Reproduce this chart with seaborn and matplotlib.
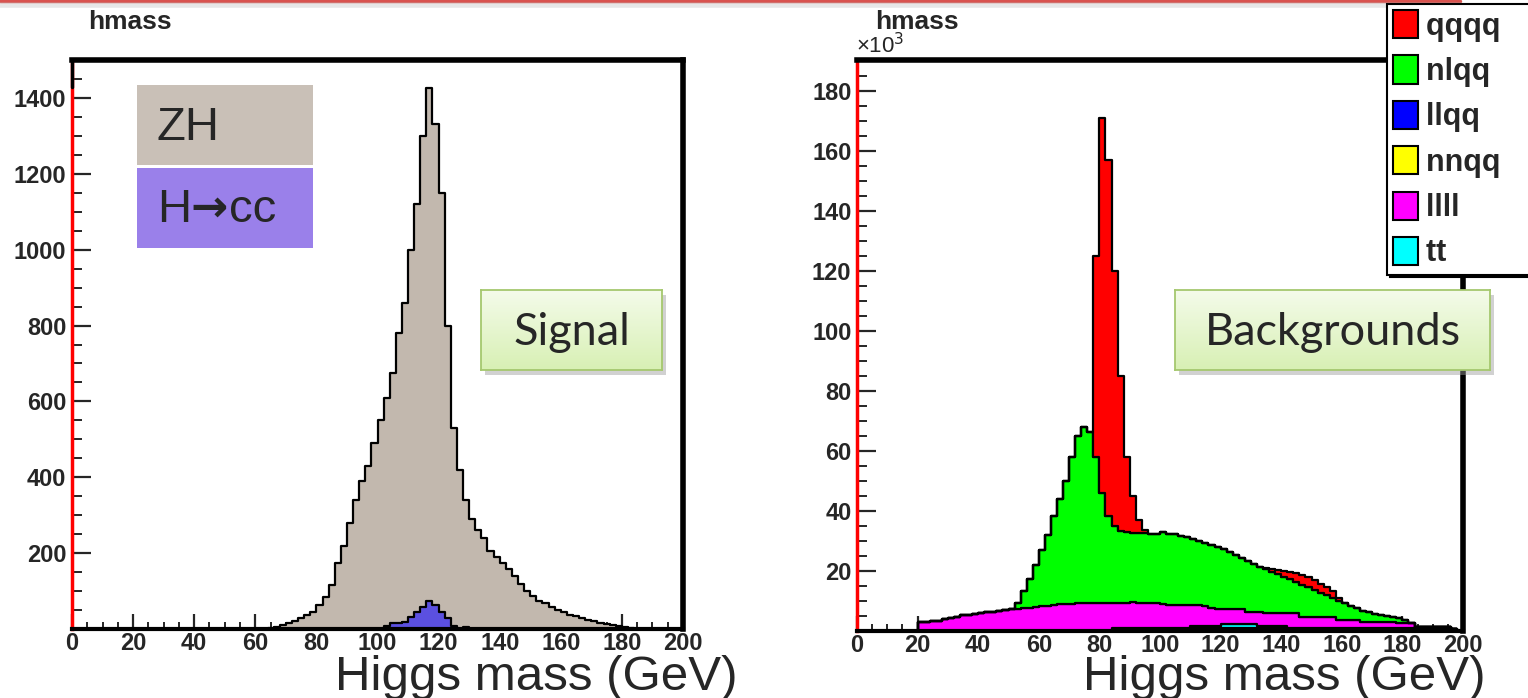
import numpy as np
import pandas as pd
import matplotlib
matplotlib.use("Agg")
import matplotlib.pyplot as plt
import seaborn as sns
from matplotlib.patches import Rectangle
from matplotlib.lines import Line2D
from matplotlib.ticker import MultipleLocator
from matplotlib.colors import LinearSegmentedColormap

# ---------------- data ----------------
bin_width = 2
mass_range = (0, 200)

# Signal panel (events per 2 GeV bin)
zh_first_bin = 64
zh_counts = [3, 6, 10, 15, 22, 28, 38, 45, 62, 85,
             115, 175, 220, 280, 340, 390, 430, 490, 550, 610,
             675, 780, 860, 1000, 1120, 1300, 1425, 1330, 1150, 800,
             530, 420, 340, 290, 260, 240, 205, 190, 175, 158,
             140, 118, 100, 88, 75, 68, 58, 50, 45, 38,
             33, 28, 24, 20, 17, 14, 10, 7, 4, 2]
hcc_first_bin = 102
hcc_counts = [8, 15, 15, 18, 32, 45, 58, 75, 62, 45, 28, 8, 0, 6]

# Background panel (x10^3 events per 2 GeV bin), stacked
qqqq_first_bin = 78
qqqq_counts = [67, 125, 118.5, 85, 51.5, 25, 12.2, 4.4, 1.0,
               0, 0, 0, 0, 0, 0, 0, 0, 0, 0, 0, 0, 0, 0, 0, 0, 0, 0, 0,
               0.3, 0.8, 1.3, 2.0, 2.6, 3.0, 3.2, 3.3, 3.3, 3.0, 2.8, 2.2, 1.0]
nlqq_first_bin = 52
nlqq_counts = [2.2, 5.9, 9.7, 14.0, 18.7, 23.5, 29.8, 35.1, 41.0, 48.9,
               55.8, 59.0, 57.2, 48.7, 36.7, 29.1, 25.6, 24.1, 23.6, 23.0,
               23.2, 23.3, 23.2, 23.3, 24.1, 23.8, 23.5, 23.2, 22.6, 22.0,
               21.4, 20.8, 21.0, 20.5, 19.7, 18.8, 17.9, 17.0, 16.8, 15.8,
               15.1, 14.9, 13.9, 13.1, 12.1, 11.3, 10.6, 10.7, 10.0, 9.0,
               8.0, 7.2, 6.2, 6.3, 5.5, 4.7, 3.9, 3.7, 3.1, 2.7,
               2.3, 1.9, 1.5, 1.6, 1.2]
llqq_first_bin = 84
llqq_counts = [0.55] * 50 + [0.6] * 7
nnqq_first_bin = 84
nnqq_counts = [0.55] * 50 + [0.6] * 6
llll_first_bin = 20
llll_counts = [3.0, 3.1, 3.2, 3.5, 4.0, 4.3, 4.8, 5.3, 5.5, 5.7, 6.0,
               6.3, 6.5, 6.8, 7.0, 7.2, 7.3, 7.6, 7.8, 8.0, 8.3,
               8.5, 8.7, 8.9, 9.0, 9.1, 9.2, 9.2, 9.3, 9.3, 9.3,
               9.4, 8.3, 8.3, 8.3, 8.7, 8.3, 8.2, 8.2, 8.1, 7.8,
               7.6, 7.6, 7.5, 7.5, 6.8, 6.8, 6.7, 5.8, 5.7, 5.1,
               5.0, 4.9, 4.8, 4.0, 4.0, 4.6, 4.1, 4.1, 4.1, 4.1,
               4.8, 4.8, 3.7, 3.7, 3.7, 3.7, 3.7, 3.7, 2.6, 2.6,
               2.6, 2.6, 2.0, 2.0, 2.0, 2.0, 2.0, 2.0, 1.5, 1.5, 1.5]
tt_first_bin = 110
tt_counts = [0.7] * 5 + [1.3] * 6 + [0.7] * 5

bkg_legend_order = ["qqqq", "nlqq", "llqq", "nnqq", "llll", "tt"]
bkg_stack_order = ["qqqq", "nlqq", "llll", "tt", "nnqq", "llqq"]  # top -> bottom
bkg_colors = {"qqqq": "#ff0000", "nlqq": "#00ff00", "llqq": "#0000ff",
              "nnqq": "#ffff00", "llll": "#ff00ff", "tt": "#00ffff"}

left_yticks = [200, 400, 600, 800, 1000, 1200, 1400]
right_yticks = [20, 40, 60, 80, 100, 120, 140, 160, 180]
xticks = list(range(0, 201, 20))

# ---------------- helpers ----------------
n_bins = int((mass_range[1] - mass_range[0]) / bin_width)
centers = mass_range[0] + bin_width * (np.arange(n_bins) + 0.5)


def full(first, vals):
    out = np.zeros(n_bins)
    i0 = int((first - mass_range[0]) / bin_width)
    out[i0:i0 + len(vals)] = vals
    return out


sig_df = pd.DataFrame({"mass": centers,
                       "zh": full(zh_first_bin, zh_counts),
                       "hcc": full(hcc_first_bin, hcc_counts)})

bkg_series = {
    "qqqq": full(qqqq_first_bin, qqqq_counts),
    "nlqq": full(nlqq_first_bin, nlqq_counts),
    "llqq": full(llqq_first_bin, llqq_counts),
    "nnqq": full(nnqq_first_bin, nnqq_counts),
    "llll": full(llll_first_bin, llll_counts),
    "tt": full(tt_first_bin, tt_counts),
}
bkg_df = pd.concat([pd.DataFrame({"mass": centers, "w": v, "proc": k})
                    for k, v in bkg_series.items()], ignore_index=True)

# ---------------- style ----------------
sns.set_style("ticks")
plt.rcParams["font.family"] = ["Liberation Sans", "DejaVu Sans"]

W, H = 1528, 698
fig = plt.figure(figsize=(W / 100, H / 100), dpi=100)


def fx(px):
    return px / W


def fy(py):
    return 1 - py / H


axL = fig.add_axes([fx(72), fy(629), fx(683) - fx(72), fy(60) - fy(629)])
axR = fig.add_axes([fx(857), fy(631), fx(1463) - fx(857), fy(60) - fy(631)])

edge_lw = 1.6
hist_kws = dict(binwidth=bin_width, binrange=mass_range, element="step",
                fill=True, alpha=1, edgecolor="black", linewidth=edge_lw)
sns.histplot(data=sig_df, x="mass", weights="zh", color="#c2b8ae", ax=axL,
             **hist_kws)
sns.histplot(data=sig_df, x="mass", weights="hcc", color="#5b50e0", ax=axL,
             **hist_kws)

sns.histplot(data=bkg_df, x="mass", weights="w", hue="proc",
             hue_order=bkg_stack_order, palette=bkg_colors,
             multiple="stack", legend=False, ax=axR, **hist_kws)

tick_font = dict(fontsize=17, fontweight="bold")
for ax, ylim, yt, ymin in [(axL, (0, 1500), left_yticks, 50),
                           (axR, (0, 190.5), right_yticks, 5)]:
    ax.set_xlim(mass_range)
    ax.set_ylim(ylim)
    ax.set_xlabel("")
    ax.set_ylabel("")
    ax.set_xticks(xticks)
    ax.set_xticklabels([str(t) for t in xticks], **tick_font)
    ax.set_yticks(yt)
    ax.set_yticklabels([str(t) for t in yt], **tick_font)
    ax.xaxis.set_minor_locator(MultipleLocator(5))
    ax.yaxis.set_minor_locator(MultipleLocator(ymin))
    ax.tick_params(axis="x", which="major", direction="in", length=11, width=1.6,
                   pad=2, bottom=True, top=False)
    ax.tick_params(axis="x", which="minor", direction="in", length=5, width=1.4,
                   bottom=True, top=False)
    ax.tick_params(axis="y", which="major", direction="in", length=14, width=1.6,
                   pad=4, left=True, right=False)
    ax.tick_params(axis="y", which="minor", direction="in", length=7, width=1.4,
                   left=True, right=False)
    for s in ["top", "right"]:
        ax.spines[s].set_color("black")
        ax.spines[s].set_linewidth(4)
    ax.spines["bottom"].set_color("black")
    ax.spines["bottom"].set_linewidth(3)
    ax.spines["left"].set_color("#ff0000")
    ax.spines["left"].set_linewidth(2.5)
    ax.set_facecolor("white")

# black top part of the left-hand spine (ROOT frame artefact)
axL.plot([0, 0], [0.953, 1.0], transform=axL.transAxes, color="black",
         lw=2.5, clip_on=False, zorder=5)

# titles
fig.text(fx(88), fy(22), "hmass", fontsize=19, fontweight="bold",
         ha="left", va="center")
fig.text(fx(875), fy(22), "hmass", fontsize=19, fontweight="bold",
         ha="left", va="center")
fig.text(fx(856), fy(46), "×10$^{3}$", fontsize=16, ha="left", va="center")

# axis labels (slide text)
fig.text(fx(335), fy(690), "Higgs mass (GeV)", fontsize=35.5, ha="left",
         va="baseline")
fig.text(fx(1083), fy(690), "Higgs mass (GeV)", fontsize=35.5, ha="left",
         va="baseline")

# slide header line
fig.add_artist(Line2D([0, fx(1460)], [fy(1), fy(1)], color="#d9534f", lw=2.5))
fig.add_artist(Line2D([0, fx(1460)], [fy(5), fy(5)], color="#bbbbbb", lw=4,
                      alpha=0.35))

# ZH / H->cc boxes
fig.add_artist(Rectangle((fx(137), fy(165)), fx(313) - fx(137), fy(85) - fy(165),
                         transform=fig.transFigure, facecolor="#c9c0b7",
                         edgecolor="none", zorder=6))
fig.add_artist(Rectangle((fx(137), fy(248)), fx(313) - fx(137), fy(168) - fy(248),
                         transform=fig.transFigure, facecolor="#9a80ea",
                         edgecolor="none", zorder=6))
fig.text(fx(157), fy(128), "ZH", fontsize=34, ha="left", va="center", zorder=7)
fig.text(fx(157), fy(210), "H", fontsize=34, ha="left", va="center", zorder=7)
fig.text(fx(209), fy(208), "→", fontsize=32, fontweight="bold", ha="center",
         va="center", zorder=7, family=["DejaVu Sans"])
fig.text(fx(229), fy(210), "cc", fontsize=34, ha="left", va="center", zorder=7)

# green text boxes
green_cmap = LinearSegmentedColormap.from_list("gbox", ["#f4fbea", "#d8f0b4"])


def green_box(x0, y0, x1, y1, label, fs):
    fig.add_artist(Rectangle((fx(x0 + 4), fy(y1 + 5)), fx(x1) - fx(x0),
                             fy(y0) - fy(y1), transform=fig.transFigure,
                             facecolor="#9a9a9a", edgecolor="none", alpha=0.45,
                             zorder=8))
    bax = fig.add_axes([fx(x0), fy(y1), fx(x1) - fx(x0), fy(y0) - fy(y1)])
    bax.set_zorder(9)
    bax.imshow(np.linspace(0, 1, 64)[:, None], cmap=green_cmap, aspect="auto",
               extent=[0, 1, 0, 1])
    bax.set_xticks([])
    bax.set_yticks([])
    for s in bax.spines.values():
        s.set_color("#a5c86e")
        s.set_linewidth(1.3)
    bax.text(0.5, 0.47, label, fontsize=fs, ha="center", va="center",
             family=["Lato", "DejaVu Sans"], transform=bax.transAxes)


green_box(481, 290, 662, 370, "Signal", 32.5)
green_box(1175, 290, 1490, 370, "Backgrounds", 32.5)

# ROOT-style legend (its right side runs off the slide, as in the reference)
handles = [Rectangle((0, 0), 1, 1, facecolor=bkg_colors[k], edgecolor="black",
                     linewidth=1.5) for k in bkg_legend_order]
leg = fig.legend(handles, [k + "   " for k in bkg_legend_order],
                 loc="upper left", bbox_to_anchor=(fx(1387), fy(4)),
                 frameon=True, fancybox=False,
                 shadow={"color": "black", "alpha": 1},
                 prop=dict(size=22, weight="bold"), handlelength=0.82,
                 handleheight=1.05, handletextpad=0.25, labelspacing=0.45,
                 borderpad=0.2, borderaxespad=0)
leg.get_frame().set_edgecolor("black")
leg.get_frame().set_linewidth(1.5)
leg.set_zorder(10)

fig.savefig("out.png", dpi=100)
